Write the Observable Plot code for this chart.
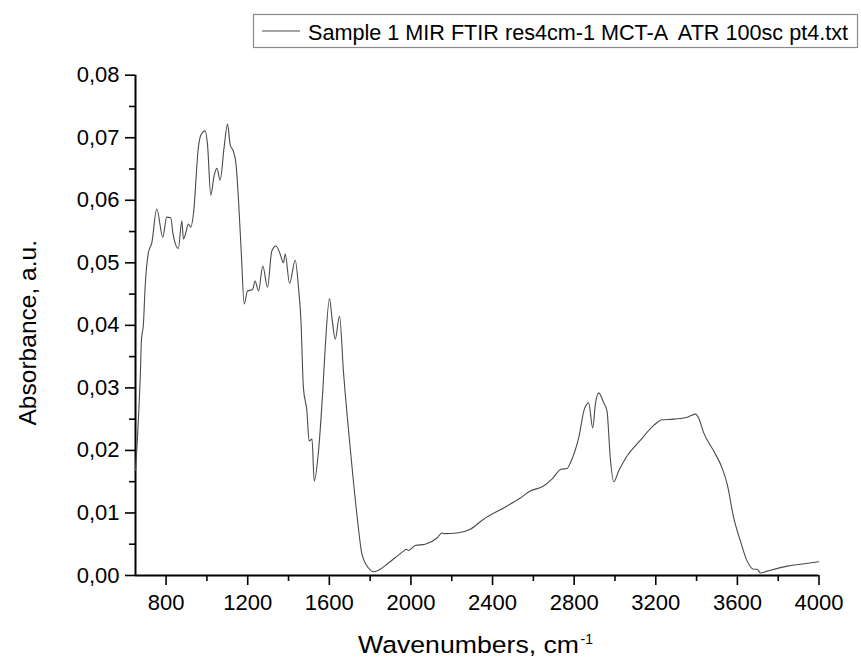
<!DOCTYPE html>
<html>
<head>
<meta charset="utf-8">
<script src="https://cdn.jsdelivr.net/npm/d3@7"></script>
<script src="https://cdn.jsdelivr.net/npm/@observablehq/plot@0.6"></script>
<style>
  html, body { margin: 0; padding: 0; background: #fff; }
  #chart { width: 861px; height: 662px; }
</style>
</head>
<body>
<div id="chart"></div>
<script>
const seriesName = "Sample 1 MIR FTIR res4cm-1 MCT-A  ATR 100sc pt4.txt";
const xTitle = "Wavenumbers, cm";
const xTitleSup = "-1";
const yTitle = "Absorbance, a.u.";

const wavenumber = [650,659,667,674,679,689,697,713,730,754,
  784,803,823,833,860,877,885,898,909,921,
  934,958,970,991,1003,1019,1035,1049,1065,1084,
  1101,1114,1130,1143,1155,1168,1183,1199,1212,1225,
  1236,1253,1274,1297,1318,1339,1359,1375,1384,1405,
  1433,1449,1461,1473,1490,1501,1515,1526,1547,1568,
  1580,1601,1613,1629,1650,1669,1702,1735,1760,1792,
  1817,1849,1882,1964,1977,1988,2021,2070,2128,2152,
  2163,2226,2291,2356,2454,2536,2585,2650,2691,2736,
  2765,2781,2822,2850,2871,2891,2904,2920,2945,2961,
  2977,2994,3018,3059,3124,3190,3231,3288,3354,3394,
  3410,3435,3484,3525,3550,3582,3615,3648,3680,3697,
  3713,3746,3844,3909,3999];

const absorbance = [0.0168,0.0216,0.0269,0.0323,0.0376,0.0403,0.0460,0.0516,0.0532,0.0586,
  0.0541,0.0573,0.0572,0.0548,0.0523,0.0567,0.0538,0.0550,0.0562,0.0557,
  0.0578,0.0684,0.0704,0.0711,0.0689,0.0608,0.0639,0.0651,0.0632,0.0684,
  0.0722,0.0689,0.0678,0.0657,0.0599,0.0519,0.0434,0.0455,0.0456,0.0458,
  0.0471,0.0455,0.0495,0.0461,0.0519,0.0527,0.0514,0.0500,0.0514,0.0467,
  0.0504,0.0460,0.0407,0.0300,0.0263,0.0215,0.0218,0.0151,0.0199,0.0296,
  0.0365,0.0443,0.0412,0.0378,0.0415,0.0327,0.0205,0.0098,0.0034,0.0012,
  0.0006,0.0010,0.0018,0.0039,0.0042,0.0040,0.0048,0.0050,0.0060,0.0068,
  0.0067,0.0068,0.0074,0.0090,0.0108,0.0124,0.0135,0.0143,0.0154,0.0170,
  0.0171,0.0180,0.0220,0.0266,0.0276,0.0236,0.0274,0.0292,0.0276,0.0263,
  0.0188,0.0150,0.0167,0.0191,0.0216,0.0240,0.0249,0.0250,0.0253,0.0258,
  0.0252,0.0228,0.0199,0.0172,0.0146,0.0092,0.0055,0.0023,0.0010,0.0010,
  0.0004,0.0007,0.0015,0.0018,0.0022];

const xDomain = [650, 4000];
const yDomain = [0, 0.08];
const xTicks = [800, 1200, 1600, 2000, 2400, 2800, 3200, 3600, 4000];
const xMinorTicks = [1000, 1400, 1800, 2200, 2600, 3000, 3400, 3800];
const yTicks = [0, 0.01, 0.02, 0.03, 0.04, 0.05, 0.06, 0.07, 0.08];
const yMinorTicks = [0.005, 0.015, 0.025, 0.035, 0.045, 0.055, 0.065, 0.075];

const data = wavenumber.map((w, i) => ({w, a: absorbance[i]}));
const fontFamily = '"Liberation Sans", Arial, Helvetica, sans-serif';

const chart = Plot.plot({
  width: 861,
  height: 662,
  marginLeft: 135,
  marginRight: 42.5,
  marginTop: 74.7,
  marginBottom: 87,
  style: {fontFamily, fontSize: "22px", color: "#000", background: "#fff"},
  x: {domain: xDomain},
  y: {domain: yDomain},
  marks: [
    Plot.axisX({ticks: xTicks, tickSize: 10, tickPadding: 9, tickFormat: d => String(d), label: null, strokeWidth: 1.6}),
    Plot.axisX({ticks: xMinorTicks, tickSize: 6, tickFormat: () => "", label: null, strokeWidth: 1.6}),
    Plot.axisY({ticks: yTicks, tickSize: 10, tickPadding: 6, tickFormat: d => d.toFixed(2).replace(".", ","), label: null, strokeWidth: 1.6}),
    Plot.axisY({ticks: yMinorTicks, tickSize: 6, tickFormat: () => "", label: null, strokeWidth: 1.6}),
    Plot.ruleX([xDomain[0]], {y1: yDomain[0], y2: yDomain[1], strokeWidth: 2}),
    Plot.ruleY([yDomain[0]], {x1: xDomain[0], x2: xDomain[1], strokeWidth: 2}),
    Plot.line(data, {x: "w", y: "a", stroke: "#4a4a4a", strokeWidth: 1.1, curve: "monotone-x"})
  ]
});

document.getElementById("chart").appendChild(chart);

const svg = d3.select(chart);
// Axis titles
svg.append("text")
  .attr("x", 358).attr("y", 653)
  .attr("font-size", 24.5)
  .attr("fill", "#000")
  .attr("text-anchor", "start")
  .attr("textLength", 221).attr("lengthAdjust", "spacingAndGlyphs")
  .text(xTitle);
svg.append("text")
  .attr("x", 580.5).attr("y", 644)
  .attr("font-size", 14)
  .attr("fill", "#000")
  .attr("text-anchor", "start")
  .text(xTitleSup);
svg.append("text")
  .attr("transform", "translate(36,425.5) rotate(-90)")
  .attr("font-size", 24.5)
  .attr("fill", "#000")
  .attr("text-anchor", "start")
  .attr("textLength", 185.5).attr("lengthAdjust", "spacingAndGlyphs")
  .text(yTitle);

// Legend
const lg = svg.append("g");
lg.append("rect")
  .attr("x", 253.5).attr("y", 14.5).attr("width", 604).attr("height", 33)
  .attr("fill", "#fff").attr("stroke", "#8a8a8a").attr("stroke-width", 1.2);
lg.append("line")
  .attr("x1", 262).attr("x2", 300).attr("y1", 31).attr("y2", 31)
  .attr("stroke", "#4a4a4a").attr("stroke-width", 1.1);
lg.append("text")
  .attr("x", 308).attr("y", 39.5)
  .attr("font-size", 22)
  .attr("fill", "#000")
  .attr("text-anchor", "start")
  .attr("textLength", 540).attr("lengthAdjust", "spacingAndGlyphs")
  .text(seriesName);
</script>
</body>
</html>
